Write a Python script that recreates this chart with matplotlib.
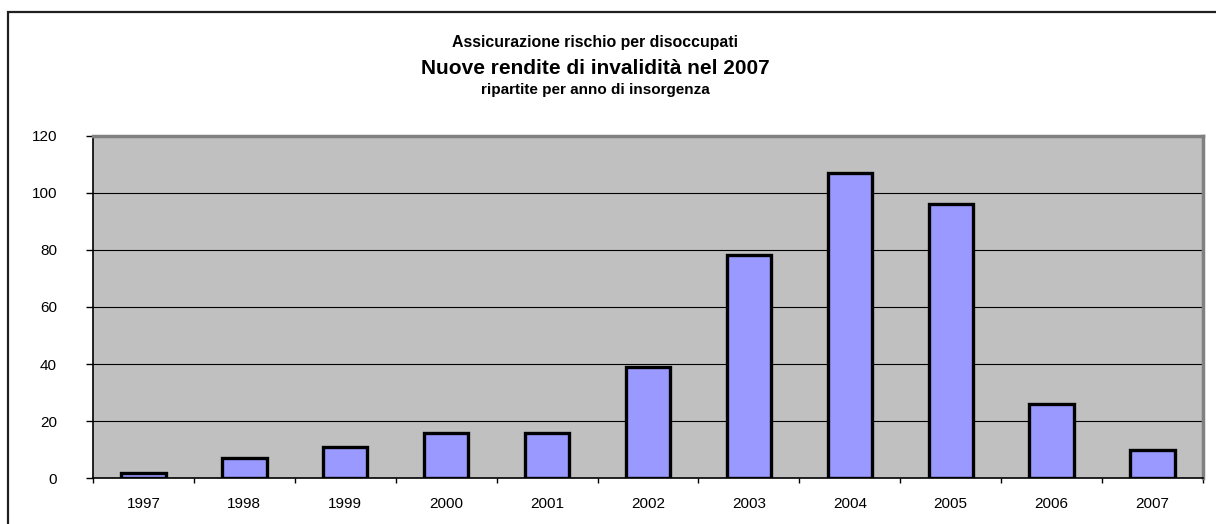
import numpy as np
import matplotlib
matplotlib.use("Agg")
import matplotlib.pyplot as plt
from matplotlib.patches import Rectangle

plt.rcParams['font.family'] = ['Liberation Sans', 'DejaVu Sans']

# data
anni = ['1997', '1998', '1999', '2000', '2001', '2002', '2003', '2004', '2005', '2006', '2007']
rendite = [2, 7, 11, 16, 16, 39, 78, 107, 96, 26, 10]
y_ticks = [0, 20, 40, 60, 80, 100, 120]

titolo_1 = "Assicurazione rischio per disoccupati"
titolo_2 = "Nuove rendite di invalidità nel 2007"
titolo_3 = "ripartite per anno di insorgenza"

W, H = 1216, 524
fig = plt.figure(figsize=(W / 100, H / 100), dpi=100)
fig.patch.set_facecolor('white')

# outer chart frame (cut by the right and bottom edges of the picture)
fig.patches.append(Rectangle((8 / W, -0.2), 1.2, 1.2 - 12 / H,
                             transform=fig.transFigure, fill=False,
                             edgecolor='#202020', linewidth=1.6, zorder=0))

ax = fig.add_axes([93 / W, (H - 478.3) / H, (1203 - 93) / W, (478.3 - 135.5) / H])
ax.set_facecolor('#C0C0C0')

x = np.arange(len(anni))
ax.bar(x, rendite, width=0.44, color='#9999FF', edgecolor='black',
       linewidth=2.4, zorder=3)

ax.set_xlim(-0.5, len(anni) - 0.5)
ax.set_ylim(0, 120)
ax.set_yticks(y_ticks)
ax.set_yticklabels([str(v) for v in y_ticks], fontsize=11)
for v in y_ticks[1:-1]:
    ax.axhline(v, color='black', linewidth=0.8, zorder=1)

ax.set_xticks(x)
ax.set_xticklabels(anni, fontsize=11)
ax.set_xticks(np.arange(len(anni) + 1) - 0.5, minor=True)
ax.tick_params(axis='x', which='major', length=0, pad=13.5)
ax.tick_params(axis='x', which='minor', length=3.8, width=1, direction='out')
ax.tick_params(axis='y', length=5, width=1, direction='out', pad=21)

for s in ['top', 'right']:
    ax.spines[s].set_color('#808080')
    ax.spines[s].set_linewidth(2.5)
ax.spines['left'].set_color('black')
ax.spines['left'].set_linewidth(1.2)
ax.spines['bottom'].set_color('black')
ax.spines['bottom'].set_linewidth(1.2)
ax.spines['bottom'].set_zorder(4)

cx = 595 / W
fig.text(cx, 1 - 43 / H, titolo_1, ha='center', va='center', fontsize=11.4, fontweight='bold')
fig.text(cx, 1 - 69 / H, titolo_2, ha='center', va='center', fontsize=15, fontweight='bold')
fig.text(cx, 1 - 90 / H, titolo_3, ha='center', va='center', fontsize=11, fontweight='bold')

fig.savefig('out.png', dpi=100)
